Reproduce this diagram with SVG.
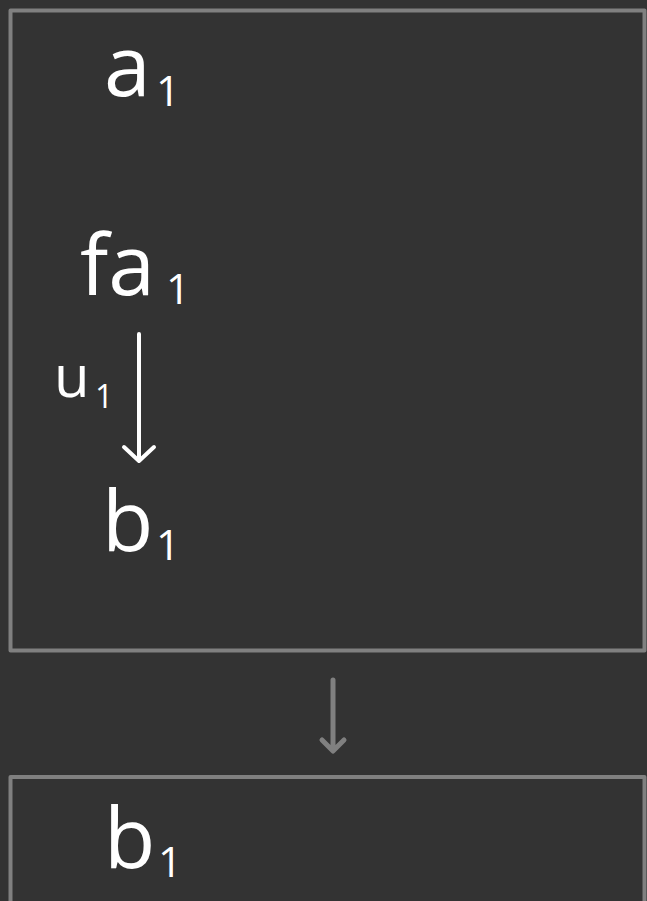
<svg xmlns="http://www.w3.org/2000/svg" width="647" height="901" viewBox="0 0 647 901">
<defs>
<style>
.bg{fill:#333333}
.box{fill:#333333;stroke:#808080;stroke-width:4;stroke-linejoin:round}
.t{fill:#ffffff;font-family:"Open Sans","Liberation Sans",sans-serif;font-size:84px}
.s{fill:#ffffff;font-family:"Open Sans","Liberation Sans",sans-serif;font-size:42px}
.ts{fill:#ffffff;font-family:"Open Sans","Liberation Sans",sans-serif;font-size:58px}
.ss{fill:#ffffff;font-family:"Open Sans","Liberation Sans",sans-serif;font-size:32px}
.w{fill:none;stroke:#ffffff;stroke-width:4;stroke-linecap:round;stroke-linejoin:round}
.g{fill:none;stroke:#808080;stroke-width:5;stroke-linecap:round;stroke-linejoin:round}
</style>
</defs>
<rect class="bg" x="0" y="0" width="647" height="901"/>
<g id="box-top">
<rect class="box" x="10.5" y="10.5" width="634" height="640"/>
</g>
<g id="node-a1">
<text class="t" x="104" y="96">a</text><text class="s" x="156" y="106">1</text>
</g>
<g id="node-fa1">
<text class="t" x="80" y="295">fa</text><text class="s" x="166" y="304">1</text>
</g>
<g id="node-b1-top">
<text class="t" x="102" y="551">b</text><text class="s" x="156" y="560">1</text>
</g>
<g id="label-u1">
<text class="ts" x="54" y="397">u</text><text class="ss" x="95" y="408">1</text>
</g>
<g id="box-bottom">
<rect class="box" x="10.5" y="777" width="634" height="140"/>
</g>
<g id="node-b1-bottom">
<text class="t" x="104" y="868">b</text><text class="s" x="158" y="877">1</text>
</g>
<g id="connectors">
<path class="w" d="M139 334 L139 461 M124 447 L139 461 L154 447"/>
<path class="g" d="M333 680 L333 750 M322 740 L333 751 L344 740"/>
</g>
</svg>
